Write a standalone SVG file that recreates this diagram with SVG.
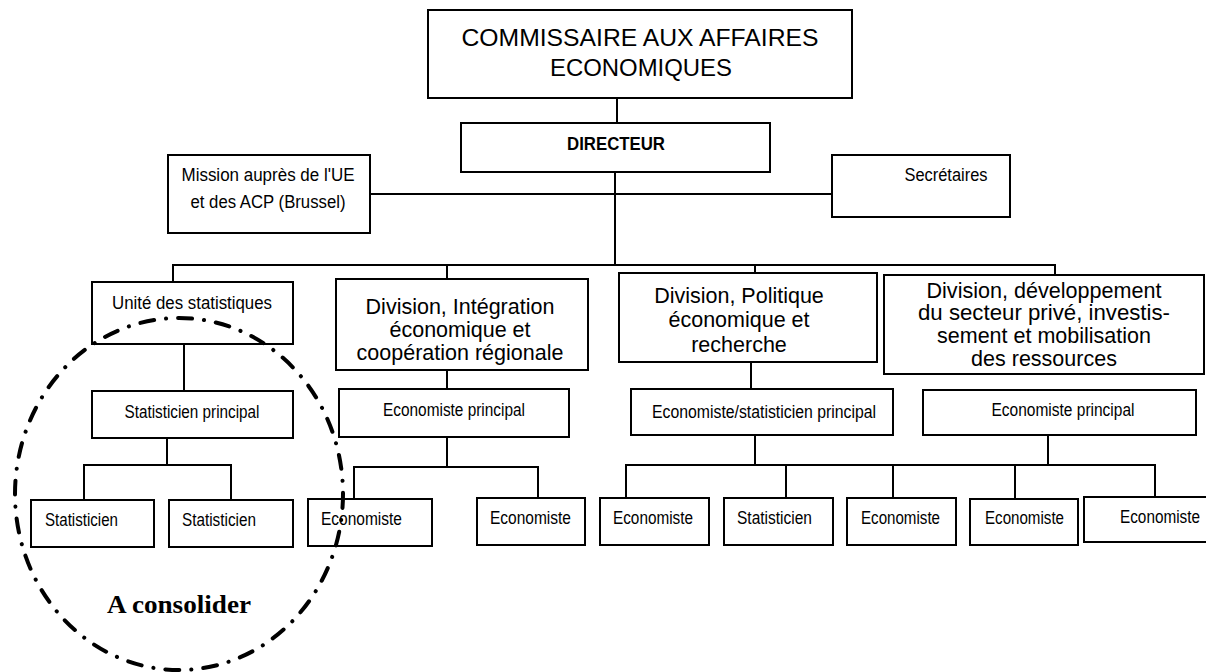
<svg xmlns="http://www.w3.org/2000/svg" width="1206" height="672" viewBox="0 0 1206 672">
<style>
.box{fill:#fff;stroke:#000;stroke-width:2}
.ln{fill:none;stroke:#000;stroke-width:2}
.n{font-family:"Liberation Sans",Arial,sans-serif;font-size:17.5px;fill:#000}
.c{text-anchor:middle}
.d{font-family:"Liberation Sans",Arial,sans-serif;font-size:21.5px;fill:#000;text-anchor:middle}
.t{font-family:"Liberation Sans",Arial,sans-serif;font-size:24px;fill:#000;text-anchor:middle}
.dash{fill:none;stroke:#000;stroke-width:4;stroke-linecap:round;stroke-dasharray:14 12 0.1 12}
</style>
<rect width="1206" height="672" fill="#fff"/>
<g id="connectors">
<path class="ln" d="M617,98V123"/>
<path class="ln" d="M615,172V265"/>
<path class="ln" d="M370,194H832"/>
<path class="ln" d="M173,282V265H1055V275"/>
<path class="ln" d="M447,265V279"/>
<path class="ln" d="M755,265V273"/>
<path class="ln" d="M184,344V391"/>
<path class="ln" d="M167,438V465M84,500V465H231V500"/>
<path class="ln" d="M447,370V389"/>
<path class="ln" d="M447,437V467M354,499V467H538V498"/>
<path class="ln" d="M751,362V389"/>
<path class="ln" d="M755,435V465M1048,435V465"/>
<path class="ln" d="M626,498V465H1155V497M786,465V498M893,465V498M1015,465V499"/>
</g>
<g id="commissaire">
<rect class="box" x="428" y="10" width="424" height="88"/>
<text class="t" x="640" y="46" textLength="357" lengthAdjust="spacingAndGlyphs">COMMISSAIRE AUX AFFAIRES</text>
<text class="t" x="641" y="76" textLength="182" lengthAdjust="spacingAndGlyphs">ECONOMIQUES</text>
</g>
<g id="directeur">
<rect class="box" x="461" y="123" width="309" height="49"/>
<text class="n c" x="616" y="150" font-weight="bold" font-size="18" textLength="98" lengthAdjust="spacingAndGlyphs">DIRECTEUR</text>
</g>
<g id="mission">
<rect class="box" x="168" y="155" width="202" height="78"/>
<text class="n c" x="268" y="181" textLength="173" lengthAdjust="spacingAndGlyphs">Mission auprès de l'UE</text>
<text class="n c" x="268" y="208" textLength="155" lengthAdjust="spacingAndGlyphs">et des ACP (Brussel)</text>
</g>
<g id="secretaires">
<rect class="box" x="832" y="155" width="178" height="62"/>
<text class="n c" x="946" y="181" textLength="83" lengthAdjust="spacingAndGlyphs">Secrétaires</text>
</g>
<g id="unite-stat">
<rect class="box" x="92" y="282" width="201" height="62"/>
<text class="n c" x="192" y="309" font-size="19" textLength="160" lengthAdjust="spacingAndGlyphs">Unité des statistiques</text>
</g>
<g id="div-integration">
<rect class="box" x="336" y="279" width="252" height="91"/>
<text class="d" x="460" y="314">Division, Intégration</text>
<text class="d" x="460" y="337">économique et</text>
<text class="d" x="460" y="360">coopération régionale</text>
</g>
<g id="div-politique">
<rect class="box" x="619" y="273" width="258" height="89"/>
<text class="d" x="739" y="303">Division, Politique</text>
<text class="d" x="739" y="327">économique et</text>
<text class="d" x="739" y="352">recherche</text>
</g>
<g id="div-developpement">
<rect class="box" x="884" y="275" width="320" height="99"/>
<text class="d" x="1044" y="298" textLength="235" lengthAdjust="spacingAndGlyphs">Division, développement</text>
<text class="d" x="1044" y="320" textLength="252" lengthAdjust="spacingAndGlyphs">du secteur privé, investis-</text>
<text class="d" x="1044" y="343">sement et mobilisation</text>
<text class="d" x="1044" y="366">des ressources</text>
</g>
<g id="stat-principal">
<rect class="box" x="92" y="391" width="201" height="47"/>
<text class="n c" x="192" y="418" textLength="135" lengthAdjust="spacingAndGlyphs">Statisticien principal</text>
</g>
<g id="econ-principal-1">
<rect class="box" x="339" y="389" width="230" height="48"/>
<text class="n c" x="454" y="416" textLength="142" lengthAdjust="spacingAndGlyphs">Economiste principal</text>
</g>
<g id="econ-stat-principal">
<rect class="box" x="631" y="389" width="262" height="46"/>
<text class="n c" x="764" y="418" textLength="224" lengthAdjust="spacingAndGlyphs">Economiste/statisticien principal</text>
</g>
<g id="econ-principal-3">
<rect class="box" x="923" y="390" width="273" height="45"/>
<text class="n c" x="1063" y="416" textLength="143" lengthAdjust="spacingAndGlyphs">Economiste principal</text>
</g>
<g id="stat-1">
<rect class="box" x="31" y="500" width="123" height="47"/>
<text class="n" x="45" y="526" textLength="73" lengthAdjust="spacingAndGlyphs">Statisticien</text>
</g>
<g id="stat-2">
<rect class="box" x="169" y="500" width="124" height="47"/>
<text class="n" x="182" y="526" textLength="74" lengthAdjust="spacingAndGlyphs">Statisticien</text>
</g>
<g id="econ-1">
<rect class="box" x="308" y="499" width="124" height="47"/>
<text class="n" x="321" y="525" textLength="81" lengthAdjust="spacingAndGlyphs">Economiste</text>
</g>
<g id="econ-2">
<rect class="box" x="477" y="498" width="108" height="47"/>
<text class="n" x="490" y="524" textLength="81" lengthAdjust="spacingAndGlyphs">Economiste</text>
</g>
<g id="econ-3">
<rect class="box" x="600" y="498" width="109" height="47"/>
<text class="n" x="613" y="524" textLength="80" lengthAdjust="spacingAndGlyphs">Economiste</text>
</g>
<g id="stat-3">
<rect class="box" x="724" y="498" width="109" height="47"/>
<text class="n" x="737" y="524" textLength="75" lengthAdjust="spacingAndGlyphs">Statisticien</text>
</g>
<g id="econ-4">
<rect class="box" x="847" y="498" width="109" height="47"/>
<text class="n" x="861" y="524" textLength="79" lengthAdjust="spacingAndGlyphs">Economiste</text>
</g>
<g id="econ-5">
<rect class="box" x="970" y="499" width="108" height="46"/>
<text class="n" x="985" y="524" textLength="79" lengthAdjust="spacingAndGlyphs">Economiste</text>
</g>
<g id="econ-6">
<rect class="box" x="1084" y="497" width="130" height="45"/>
<text class="n" x="1120" y="523" textLength="80" lengthAdjust="spacingAndGlyphs">Economiste</text>
</g>
<g id="consolider">
<ellipse class="dash" cx="179" cy="494" rx="164" ry="176"/>
<text x="179" y="613" text-anchor="middle" font-family="'Liberation Serif','Times New Roman',serif" font-size="25" font-weight="bold" textLength="144" lengthAdjust="spacingAndGlyphs">A consolider</text>
</g>
</svg>
